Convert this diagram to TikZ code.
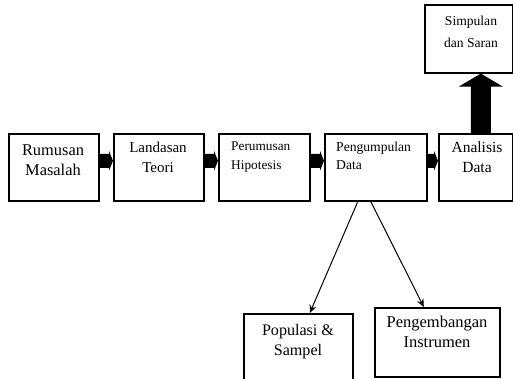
\documentclass[tikz,border=0pt]{standalone}
\usepackage{fontspec}
\setmainfont{Liberation Serif}
\usetikzlibrary{arrows.meta}
\begin{document}
\begin{tikzpicture}[x=1pt,y=-1pt,
  box/.style={draw=black,line width=1.6pt,inner sep=0pt},
  txt/.style={inner sep=0pt,align=center,anchor=base},
  ltxt/.style={inner sep=0pt,align=left,anchor=base west},
  blk/.style={fill=black,draw=none},
  thin/.style={draw=black,line width=1pt,-{Stealth[length=8pt,width=7pt]}}]
\clip (0,0) rectangle (513,379);
\fill[white] (0,0) rectangle (513,379);
% boxes
\node[box,minimum width=90pt,minimum height=67pt,anchor=north west] (rm) at (8,133) {};
\node[box,minimum width=90pt,minimum height=67pt,anchor=north west] (lt) at (113,133) {};
\node[box,minimum width=91pt,minimum height=67pt,anchor=north west] (ph) at (218,133) {};
\node[box,minimum width=102pt,minimum height=67pt,anchor=north west] (pd) at (324,133) {};
\node[box,minimum width=74pt,minimum height=67pt,anchor=north west] (ad) at (438,133) {};
\node[box,minimum width=88pt,minimum height=68pt,anchor=north west] (ss) at (424,4) {};
\node[box,minimum width=109pt,minimum height=80pt,anchor=north west] (ps) at (243,313) {};
\node[box,minimum width=125pt,minimum height=69pt,anchor=north west] (pi) at (374,307) {};
% texts (anchor = baseline of the last line)
\node[txt,font=\fontsize{16.4}{20}\selectfont] (rmt) at (53,176) {Rumusan\\Masalah};
\node[txt,font=\fontsize{15}{20}\selectfont] (ltt) at (158,173) {Landasan\\Teori};
\node[ltxt,font=\fontsize{13.3}{19}\selectfont] (pht) at (231,170) {Perumusan\\Hipotesis};
\node[ltxt,font=\fontsize{13.6}{18}\selectfont] (pdt) at (336,170) {Pengumpulan\\Data};
\node[txt,font=\fontsize{15.5}{20}\selectfont] (adt) at (477,173) {Analisis\\Data};
\node[txt,font=\fontsize{13.6}{22}\selectfont] (sst) at (471,48) {Simpulan\\dan Saran};
\node[txt,font=\fontsize{16.1}{20}\selectfont] (pst) at (298,355) {Populasi \&\\Sampel};
\node[txt,font=\fontsize{16.5}{20}\selectfont] (pit) at (437,347) {Pengembangan\\Instrumen};
% block arrows between boxes
\foreach \a/\b in {rm/lt,lt/ph,ph/pd,pd/ad}{
  \path (\a.east) coordinate (s) (\b.west) coordinate (e);
  \fill[blk] ([yshift=13.5pt]s) -- ([xshift=-4pt,yshift=13.5pt]e) -- ([xshift=-4pt,yshift=16.5pt]e)
    -- ([yshift=6.5pt]e) -- ([xshift=-4pt,yshift=-3.5pt]e) -- ([xshift=-4pt,yshift=-0.5pt]e) -- ([yshift=-0.5pt]s) -- cycle;
}
% up arrow from Analisis Data to Simpulan dan Saran (centre x = 480)
\path (ad.north) coordinate (us) (ss.south) coordinate (ue);
\fill[blk] ([xshift=-5pt]us) -- ([xshift=2pt,yshift=-13pt]ue) -- ([xshift=-10pt,yshift=-13pt]ue) -- ([xshift=12pt]ue)
  -- ([xshift=34pt,yshift=-13pt]ue) -- ([xshift=22pt,yshift=-13pt]ue) -- ([xshift=15pt]us) -- cycle;
% thin arrows
\draw[thin] ([xshift=-18pt]pd.south) -- ([xshift=11.5pt]ps.north);
\draw[thin] ([xshift=-5pt]pd.south) -- ([xshift=-13.5pt]pi.north);
\end{tikzpicture}
\end{document}
